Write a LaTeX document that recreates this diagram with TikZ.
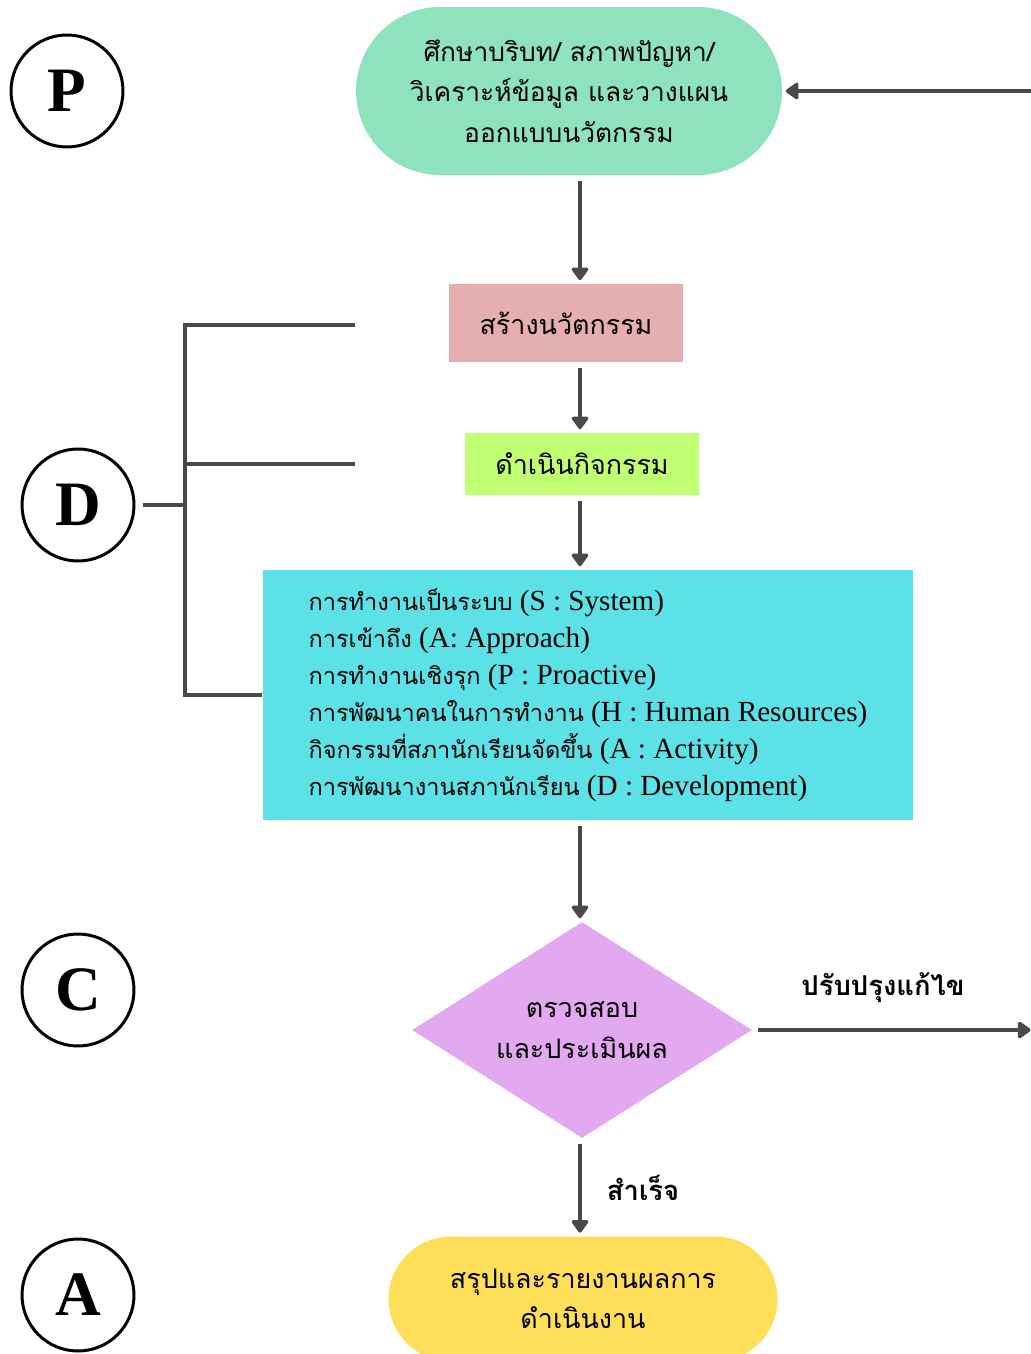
\documentclass[tikz,border=0pt]{standalone}
\usepackage{fontspec}
\setmainfont{Liberation Serif}
\newfontfamily\thaifont[Script=Thai]{Loma}
\usetikzlibrary{arrows.meta}
\usetikzlibrary{shapes.geometric}
\definecolor{studygreen}{HTML}{8FE2BE}
\definecolor{makepink}{HTML}{E6AFAF}
\definecolor{runlime}{HTML}{C1FF72}
\definecolor{sapcyan}{HTML}{5CE1E6}
\definecolor{checklilac}{HTML}{E2A9F1}
\definecolor{reportyellow}{HTML}{FFDE59}
\definecolor{linkgray}{HTML}{4D4848}
\newcommand{\thtxt}[1]{{\thaifont\fontsize{13.4}{21}\selectfont #1}}
\tikzset{
  phase/.style={circle,draw,line width=1.7pt,minimum size=2.24cm,inner sep=0pt,
    font=\bfseries\fontsize{36}{36}\selectfont},
  flowtext/.style={align=center,text=black,font=\thaifont\fontsize{15.3}{23}\selectfont},
  arrowlbl/.style={text=black,font=\thaifont\bfseries\fontsize{15.6}{23}\selectfont},
  link/.style={draw=linkgray,line width=2.3pt},
  arr/.style={link,-{Triangle[length=0.28cm,width=0.38cm,round]},shorten <=3pt,shorten >=2pt}
}
\begin{document}
\begin{tikzpicture}[x=0.02cm,y=-0.02cm]
\useasboundingbox (0,0) rectangle (1030,1354);
% PDCA letters
\node[phase] (pP) at (67,91) {P};
\node[phase] (pD) at (78,505) {D};
\node[phase] (pC) at (78,990) {C};
\node[phase] (pA) at (78,1295) {A};
% steps
\node[flowtext,fill=studygreen,rounded corners=1.68cm,minimum width=8.52cm,minimum height=3.36cm,
  inner sep=0pt,font=\thaifont\fontsize{15}{23}\selectfont] (study) at (569,91)
  {ศึกษาบริบท/ สภาพปัญหา/\\วิเคราะห์ข้อมูล และวางแผน\\ออกแบบนวัตกรรม};
\node[flowtext,fill=makepink,minimum width=4.7cm,minimum height=1.56cm] (create) at (566,323) {สร้างนวัตกรรม};
\node[flowtext,fill=runlime,minimum width=4.7cm,minimum height=1.24cm] (run) at (582,464) {ดำเนินกิจกรรม};
\node[fill=sapcyan,minimum width=13.02cm,minimum height=5cm,align=left,
  font=\fontsize{16.6}{21}\selectfont] (sys) at (588,695)
  {\thtxt{การทำงานเป็นระบบ} (S : System)\\
   \thtxt{การเข้าถึง} (A: Approach)\\
   \thtxt{การทำงานเชิงรุก} (P : Proactive)\\
   \thtxt{การพัฒนาคนในการทำงาน} (H : Human Resources)\\
   \thtxt{กิจกรรมที่สภานักเรียนจัดขึ้น} (A : Activity)\\
   \thtxt{การพัฒนางานสภานักเรียน} (D : Development)};
\node[flowtext,diamond,fill=checklilac,minimum width=6.8cm,minimum height=4.32cm,inner sep=-4pt] (check) at (582,1030)
  {ตรวจสอบ\\และประเมินผล};
\node[flowtext,fill=reportyellow,rounded corners=1.25cm,minimum width=7.78cm,minimum height=2.5cm] (report) at (583,1299)
  {สรุปและรายงานผลการ\\ดำเนินงาน};
% arrow labels
\node[arrowlbl] (fixlbl) at (883,988) {ปรับปรุงแก้ไข};
\node[arrowlbl] (donelbl) at (643,1188) {สำเร็จ};
% free ends
\coordinate (spine) at (580,0);
\coordinate (bx) at (185,0);
\coordinate (btop) at (355,325);
\coordinate (bmid) at (355,464);
\coordinate (fixout) at (1034,1030);
\coordinate (fixin) at (1034,91);
% arrows
\draw[arr] (study.south -| spine) -- (create.north -| spine);
\draw[arr] (create.south -| spine) -- (run.north -| spine);
\draw[arr] (run.south -| spine) -- (sys.north -| spine);
\draw[arr] (sys.south -| spine) -- (check.north -| spine);
\draw[arr] (check.south -| spine) -- (report.north -| spine);
\draw[arr] (check.east) -- (fixout);
\draw[arr,shorten <=0pt] (fixin) -- (study.east |- fixin);
% D bracket
\draw[link] (btop) -| (bx |- sys.west) -- (sys.west);
\draw[link] (bmid) -- (bmid -| bx);
\draw[link,shorten <=4pt] (pD.east) -- (pD.east -| bx);
\end{tikzpicture}
\end{document}
